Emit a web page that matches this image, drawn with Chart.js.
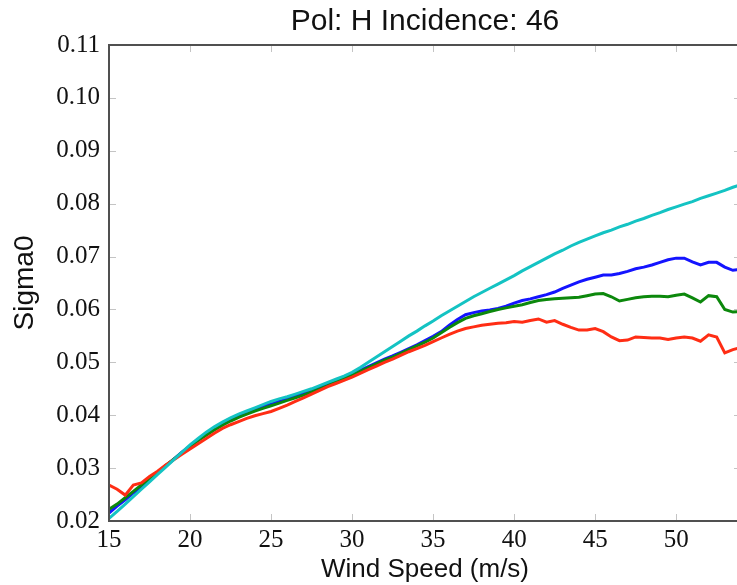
<!DOCTYPE html>
<html>
<head>
<meta charset="utf-8">
<script src="https://cdn.jsdelivr.net/npm/chart.js@4.4.1/dist/chart.umd.min.js"></script>
<style>
  html, body { margin: 0; padding: 0; background: #fff; overflow: hidden; }
  #wrap { position: relative; width: 744px; height: 585px; }
</style>
</head>
<body>
<div id="wrap"><canvas id="sigmaChart"></canvas></div>
<script>
'use strict';

const chartTitle = 'Pol: H Incidence: 46';

const windSpeed = [
  15.0, 15.5, 16.0, 16.5, 17.0, 17.5, 18.0, 18.5, 19.0, 19.5,
  20.0, 20.5, 21.0, 21.5, 22.0, 22.5, 23.0, 23.5, 24.0, 24.5,
  25.0, 25.5, 26.0, 26.5, 27.0, 27.5, 28.0, 28.5, 29.0, 29.5,
  30.0, 30.5, 31.0, 31.5, 32.0, 32.5, 33.0, 33.5, 34.0, 34.5,
  35.0, 35.5, 36.0, 36.5, 37.0, 37.5, 38.0, 38.5, 39.0, 39.5,
  40.0, 40.5, 41.0, 41.5, 42.0, 42.5, 43.0, 43.5, 44.0, 44.5,
  45.0, 45.5, 46.0, 46.5, 47.0, 47.5, 48.0, 48.5, 49.0, 49.5,
  50.0, 50.5, 51.0, 51.5, 52.0, 52.5, 53.0, 53.5, 54.0
];

// model curve
const sigmaCyan = [
  0.0205, 0.0218, 0.0232, 0.0246, 0.0260, 0.0274, 0.0288, 0.0302, 0.0316, 0.0330,
  0.0344, 0.0356, 0.0368, 0.0378, 0.0387, 0.0395, 0.0402, 0.0408, 0.0414, 0.0420,
  0.0426, 0.0431, 0.0435, 0.0440, 0.0445, 0.0450, 0.0456, 0.0462, 0.0468, 0.0474,
  0.0481, 0.0490, 0.0500, 0.0510, 0.0520, 0.0530, 0.0540, 0.0550, 0.0559, 0.0569,
  0.0578, 0.0588, 0.0597, 0.0606, 0.0615, 0.0624, 0.0632, 0.0640, 0.0648, 0.0656,
  0.0664, 0.0673, 0.0681, 0.0689, 0.0697, 0.0705, 0.0712, 0.0720, 0.0727, 0.0733,
  0.0739, 0.0745, 0.0750, 0.0756, 0.0761, 0.0767, 0.0772, 0.0778, 0.0783, 0.0789,
  0.0794, 0.0799, 0.0804, 0.0810, 0.0815, 0.0820, 0.0825, 0.0831, 0.0836
];

const sigmaBlue = [
  0.0215, 0.0228, 0.0240, 0.0253, 0.0265, 0.0278, 0.0291, 0.0304, 0.0317, 0.0330,
  0.0342, 0.0353, 0.0364, 0.0374, 0.0383, 0.0391, 0.0398, 0.0404, 0.0410, 0.0416,
  0.0421, 0.0426, 0.0431, 0.0436, 0.0441, 0.0447, 0.0453, 0.0459, 0.0465, 0.0471,
  0.0478, 0.0485, 0.0492, 0.0499, 0.0506, 0.0512, 0.0519, 0.0526, 0.0533, 0.0541,
  0.0549, 0.0558, 0.0570, 0.0581, 0.0590, 0.0594, 0.0597, 0.0599, 0.0602, 0.0606,
  0.0612, 0.0617, 0.0620, 0.0624, 0.0628, 0.0633, 0.0640, 0.0646, 0.0652, 0.0657,
  0.0661, 0.0665, 0.0665, 0.0668, 0.0672, 0.0677, 0.0680, 0.0684, 0.0689, 0.0694,
  0.0697, 0.0697, 0.0690, 0.0684, 0.0689, 0.0689, 0.0680, 0.0674, 0.0676
];

const sigmaGreen = [
  0.0222, 0.0232, 0.0244, 0.0256, 0.0268, 0.0280, 0.0292, 0.0305, 0.0317, 0.0329,
  0.0341, 0.0352, 0.0362, 0.0372, 0.0381, 0.0389, 0.0396, 0.0402, 0.0408, 0.0413,
  0.0418, 0.0423, 0.0428, 0.0433, 0.0438, 0.0444, 0.0450, 0.0456, 0.0463, 0.0469,
  0.0476, 0.0483, 0.0490, 0.0497, 0.0504, 0.0510, 0.0517, 0.0524, 0.0531, 0.0538,
  0.0546, 0.0556, 0.0566, 0.0575, 0.0583, 0.0588, 0.0592, 0.0596, 0.0600, 0.0603,
  0.0606, 0.0609, 0.0613, 0.0617, 0.0619, 0.0620, 0.0621, 0.0622, 0.0623, 0.0626,
  0.0629, 0.0630, 0.0624, 0.0616, 0.0619, 0.0622, 0.0624, 0.0625, 0.0625, 0.0624,
  0.0627, 0.0629, 0.0622, 0.0614, 0.0626, 0.0624, 0.0600, 0.0595, 0.0596
];

const sigmaRed = [
  0.0268, 0.0260, 0.0249, 0.0268, 0.0272, 0.0284, 0.0294, 0.0306, 0.0316, 0.0326,
  0.0336, 0.0346, 0.0356, 0.0366, 0.0375, 0.0382, 0.0388, 0.0394, 0.0399, 0.0403,
  0.0407, 0.0413, 0.0419, 0.0426, 0.0433, 0.0440, 0.0447, 0.0454, 0.0460, 0.0466,
  0.0472, 0.0479, 0.0486, 0.0493, 0.0500, 0.0506, 0.0513, 0.0520, 0.0526, 0.0532,
  0.0539, 0.0546, 0.0553, 0.0559, 0.0564, 0.0567, 0.0570, 0.0572, 0.0574, 0.0575,
  0.0577, 0.0576, 0.0579, 0.0582, 0.0576, 0.0579, 0.0572, 0.0566, 0.0561, 0.0561,
  0.0564, 0.0558, 0.0548, 0.0541, 0.0542, 0.0548, 0.0547, 0.0546, 0.0546, 0.0543,
  0.0546, 0.0548, 0.0546, 0.0540, 0.0552, 0.0548, 0.0518, 0.0524, 0.0528
];

const xTicks = [15, 20, 25, 30, 35, 40, 45, 50];
const yTicks = [0.02, 0.03, 0.04, 0.05, 0.06, 0.07, 0.08, 0.09, 0.10, 0.11];

function toPoints(values) {
  return values.map((v, i) => ({ x: windSpeed[i], y: v }));
}

function series(values, color) {
  return {
    data: toPoints(values),
    borderColor: color,
    borderWidth: 3,
    pointRadius: 0,
    fill: false,
    tension: 0
  };
}

// frame round the plot with short ticks pointing inward on every side
const framePlugin = {
  id: 'frame',
  afterDatasetsDraw(chart) {
    const { ctx, chartArea: a, scales } = chart;
    const len = 7;
    ctx.save();
    ctx.strokeStyle = '#c4c4c4';
    ctx.lineWidth = 1;
    ctx.beginPath();
    xTicks.forEach(t => {
      const px = Math.round(scales.x.getPixelForValue(t)) + 0.5;
      ctx.moveTo(px, a.bottom); ctx.lineTo(px, a.bottom - len);
      ctx.moveTo(px, a.top); ctx.lineTo(px, a.top + len);
    });
    yTicks.forEach(t => {
      const py = Math.round(scales.y.getPixelForValue(t)) + 0.5;
      ctx.moveTo(a.left, py); ctx.lineTo(a.left + len, py);
      ctx.moveTo(a.right, py); ctx.lineTo(a.right - len, py);
    });
    ctx.stroke();
    ctx.strokeStyle = '#505050';
    ctx.lineWidth = 2;
    ctx.strokeRect(a.left, a.top, a.right - a.left, a.bottom - a.top);
    ctx.restore();
  }
};

const tickFont = { family: '"Liberation Serif", "Times New Roman", serif', size: 25 };
const sansFont = '"Liberation Sans", Arial, Helvetica, sans-serif';

const ctx = document.getElementById('sigmaChart').getContext('2d');
new Chart(ctx, {
  type: 'line',
  data: {
    datasets: [
      series(sigmaCyan, '#14c3c3'),
      series(sigmaRed, '#ff2d14'),
      series(sigmaGreen, '#0c880c'),
      series(sigmaBlue, '#1414ff')
    ]
  },
  options: {
    responsive: true,
    maintainAspectRatio: false,
    animation: false,
    layout: { padding: { left: 0, right: 3, top: 0, bottom: 0 } },
    plugins: {
      legend: { display: false },
      tooltip: { enabled: false }
    },
    scales: {
      x: {
        type: 'linear',
        position: 'bottom',
        min: 15,
        max: 54,
        grid: { display: false, drawTicks: false },
        border: { display: false },
        ticks: {
          stepSize: 5,
          includeBounds: false,
          autoSkip: false,
          maxRotation: 0,
          padding: 4,
          color: '#111',
          font: tickFont
        },
        title: {
          display: true,
          text: 'Wind Speed (m/s)',
          color: '#111',
          font: { family: sansFont, size: 26 },
          padding: { top: 0, bottom: 0 }
        },
        afterFit(scale) { scale.height = 64; }
      },
      xTop: {
        type: 'linear',
        position: 'top',
        min: 15,
        max: 54,
        grid: { display: false, drawTicks: false },
        border: { display: false },
        ticks: { display: false },
        title: {
          display: true,
          text: chartTitle,
          color: '#111',
          font: { family: sansFont, size: 30 },
          padding: { top: 4, bottom: 0 }
        },
        afterFit(scale) { scale.height = 45; }
      },
      y: {
        type: 'linear',
        min: 0.02,
        max: 0.11,
        grid: { display: false, drawTicks: false },
        border: { display: false },
        ticks: {
          stepSize: 0.01,
          autoSkip: false,
          padding: 9,
          color: '#111',
          font: tickFont,
          callback: v => v.toFixed(2)
        },
        title: {
          display: true,
          text: 'Sigma0',
          color: '#111',
          font: { family: sansFont, size: 28 },
          padding: { top: 8, bottom: 0 }
        },
        afterFit(scale) { scale.width = 109; }
      }
    }
  },
  plugins: [framePlugin]
});
</script>
</body>
</html>
